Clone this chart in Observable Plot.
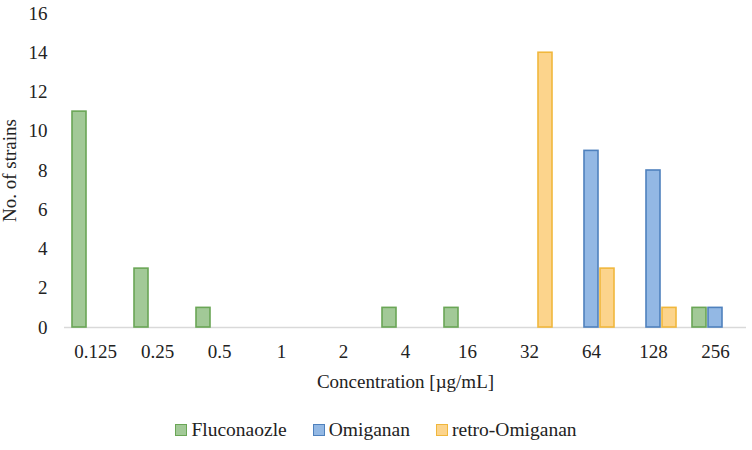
<!DOCTYPE html>
<html>
<head>
<meta charset="utf-8">
<script src="https://cdn.jsdelivr.net/npm/d3@7"></script>
<script src="https://cdn.jsdelivr.net/npm/@observablehq/plot@0.6"></script>
<style>
  html, body { margin: 0; padding: 0; background: #fff; }
  #chart { width: 752px; }
  #chart svg text { font-family: "Liberation Serif", "Times New Roman", serif !important; font-size: 19px !important; fill: #222; }
  .legend { display: flex; justify-content: center; align-items: center; height: 40px;
    font-family: "Liberation Serif", "Times New Roman", serif; font-size: 19.5px; color: #222; }
  .legend .item { display: flex; align-items: center; margin: 0 13px; }
  .legend .sw { width: 10px; height: 10px; border: 1px solid; margin-right: 4px; }
</style>
</head>
<body>
<div id="chart"></div>
<script>
const concentrations = ["0.125", "0.25", "0.5", "1", "2", "4", "16", "32", "64", "128", "256"];
const fluconazole    = [11, 3, 1, 0, 0, 1, 1, 0, 0, 0, 1];
const omiganan       = [0, 0, 0, 0, 0, 0, 0, 0, 9, 8, 1];
const retroOmiganan  = [0, 0, 0, 0, 0, 0, 0, 14, 3, 1, 0];
const seriesNames    = ["Fluconaozle", "Omiganan", "retro-Omiganan"];
const yTicks         = [0, 2, 4, 6, 8, 10, 12, 14, 16];

const fills   = ["#a2c997", "#93b8e4", "#fcd48c"];
const strokes = ["#6aa656", "#4f81bd", "#f0b73c"];
const offsets = [-16, 0, 16];

const seriesValues = [fluconazole, omiganan, retroOmiganan];
const font = '"Liberation Serif", "Times New Roman", serif';

const barMarks = seriesValues.map((vals, i) => {
  const data = concentrations.map((c, j) => ({conc: c, value: vals[j], series: seriesNames[i]}))
    .filter(d => d.value > 0);
  return Plot.barY(data, {
    x: "conc", y: "value",
    fill: fills[i], stroke: strokes[i], strokeWidth: 1.6,
    insetLeft: 24, insetRight: 24, dx: offsets[i]
  });
});

const chart = Plot.plot({
  width: 752,
  height: 410,
  marginLeft: 64,
  marginRight: 6,
  marginTop: 13,
  marginBottom: 83,
  style: { fontFamily: font, fontSize: "19px", color: "#222", background: "#fff" },
  x: { type: "band", domain: concentrations, padding: 0 },
  y: { domain: [0, 16] },
  marks: [
    Plot.ruleY([0], { stroke: "#d9d9d9", strokeWidth: 1.5 }),
    ...barMarks,
    Plot.axisX({ tickSize: 0, tickPadding: 17, label: "Concentration [µg/mL]", labelAnchor: "center", labelOffset: 60, labelArrow: "none", fontSize: 19, fontFamily: font }),
    Plot.axisY({ ticks: yTicks, tickSize: 0, tickPadding: 17, label: "No. of strains", labelAnchor: "center", labelOffset: 62, labelArrow: "none", fontSize: 19, fontFamily: font })
  ]
});
document.getElementById("chart").appendChild(chart);

const legend = document.createElement("div");
legend.className = "legend";
seriesNames.forEach((name, i) => {
  const item = document.createElement("div");
  item.className = "item";
  const sw = document.createElement("span");
  sw.className = "sw";
  sw.style.background = fills[i];
  sw.style.borderColor = strokes[i];
  item.appendChild(sw);
  const t = document.createElement("span");
  t.textContent = name;
  item.appendChild(t);
  legend.appendChild(item);
});
document.getElementById("chart").appendChild(legend);
</script>
</body>
</html>
